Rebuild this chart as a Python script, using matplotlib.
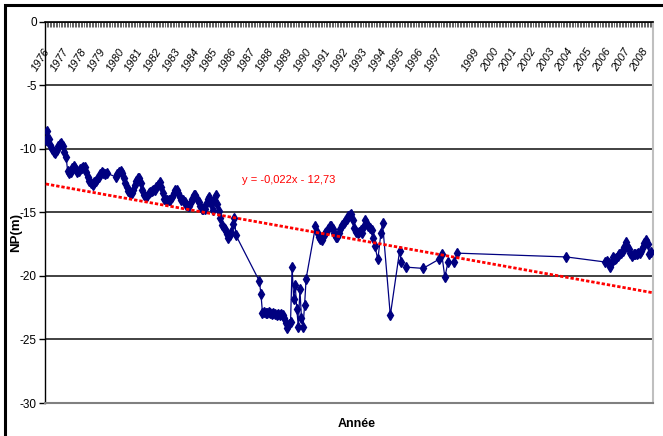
import numpy as np
import matplotlib
matplotlib.use("Agg")
import matplotlib.pyplot as plt
from matplotlib.patches import Rectangle

plt.rcParams['font.family'] = ['Liberation Sans Narrow', 'Liberation Sans', 'DejaVu Sans']
plt.rcParams['axes.unicode_minus'] = False

# monthly piezometric level NP (m), month 1 = January 1976
run_1976_start = 1
run_1976 = [-9.3, -8.6, -9.2, -9.7, -10.0, -10.2, -10.3, -10.1, -9.8, -9.6,
            -9.5, -9.8, -10.2, -10.6, -11.7, -11.9, -11.8, -11.5, -11.3, -11.5,
            -11.8, -11.7, -11.6, -11.5, -11.4, -11.4, -11.8, -12.2, -12.5, -12.7,
            -12.8, -12.6, -12.5, -12.4, -12.2, -12.0, -11.8, -11.9, -12.0, -11.9]

run_1979_start = 46
run_1979 = [-12.2, -12.0, -11.8, -11.7, -11.9, -12.3, -12.7, -13.0, -13.3, -13.5,
            -13.5, -13.2, -12.8, -12.5, -12.3, -12.3, -12.7, -13.2, -13.6, -13.8,
            -13.7, -13.5, -13.4, -13.3, -13.2, -13.2, -13.0, -12.8, -12.6, -13.0,
            -13.5, -13.9, -14.0, -14.0, -14.0, -14.0, -13.8, -13.5, -13.2, -13.2,
            -13.5, -13.8, -14.0, -14.0, -14.2, -14.4, -14.5, -14.5, -14.2, -13.9,
            -13.6, -13.6, -13.9, -14.2, -14.5, -14.7, -14.7, -14.7, -14.3, -13.9,
            -13.8, -14.3, -14.8, -14.0, -13.6, -14.3, -14.9, -15.4, -16.0, -16.2,
            -16.3, -16.7, -17.0, -16.8, -16.5, -15.9, -15.4, -16.8]

run_1987_start = 138
run_1987 = [-20.4, -21.4, -22.9, -22.8, -22.9, -22.9, -22.8, -22.9, -23.0, -22.9,
            -23.0, -23.1, -23.0, -23.1, -23.0, -23.1, -23.3, -23.7, -24.1, -23.8,
            -23.6, -19.3, -21.8, -20.7, -22.6, -24.0, -21.0, -23.3, -24.0, -22.3,
            -20.2]

run_1990_start = 174
run_1990 = [-16.1, -16.5, -16.9, -17.1, -17.2, -16.9, -16.6, -16.5, -16.3, -16.1,
            -16.1, -16.3, -16.6, -16.9, -16.9, -16.6, -16.3, -16.0, -15.8, -15.7,
            -15.5, -15.3, -15.2, -15.1, -15.6, -16.2, -16.5, -16.6, -16.5, -16.4,
            -16.6, -16.1, -15.6, -15.9, -16.1, -16.2, -16.4, -17.0, -17.6]

# isolated readings 1993-2004
sparse_months = [214, 216, 217, 222, 228, 229, 232, 243, 253, 255, 257, 259, 263, 265, 335]
sparse_levels = [-18.7, -16.6, -15.8, -23.1, -18.0, -18.9, -19.3, -19.4, -18.7, -18.3,
                 -20.1, -18.9, -18.9, -18.2, -18.5]

run_2005_start = 360
run_2005 = [-18.9, -18.8, -19.0, -19.3, -18.9, -18.5, -18.7, -18.6, -18.4, -18.3,
            -18.2, -18.0, -17.7, -17.3, -17.6, -17.9, -18.2, -18.4, -18.3, -18.3,
            -18.3, -18.2, -18.2, -18.0, -17.7, -17.4, -17.2, -17.5, -18.3, -18.1]

n_months = 390
year_labels = [1976, 1977, 1978, 1979, 1980, 1981, 1982, 1983, 1984, 1985, 1986,
               1987, 1988, 1989, 1990, 1991, 1992, 1993, 1994, 1995, 1996, 1997,
               1999, 2000, 2001, 2002, 2003, 2004, 2005, 2006, 2007, 2008]

# linear trend as fitted on the month index
trend_slope = -0.022
trend_intercept = -12.73

months, levels = [], []
for start, vals in [(run_1976_start, run_1976), (run_1979_start, run_1979),
                    (run_1987_start, run_1987), (run_1990_start, run_1990),
                    (run_2005_start, run_2005)]:
    months.extend(np.arange(start, start + len(vals)))
    levels.extend(vals)
months.extend(sparse_months)
levels.extend(sparse_levels)
order = np.argsort(months)
months = np.array(months)[order]
levels = np.array(levels)[order]

W, H = 663, 436
fig = plt.figure(figsize=(W / 100, H / 100), dpi=100)
ax = fig.add_axes([45 / W, 33 / H, 608 / W, 381 / H])

ax.set_xlim(0.5, n_months + 0.5)
ax.set_ylim(-30, 0)
ax.set_yticks(np.arange(-30, 1, 5))
ax.set_yticklabels([str(v) for v in range(-30, 1, 5)])
ax.yaxis.grid(True, color='#333333', lw=1.3)
ax.set_axisbelow(True)

# observed levels
ax.plot(months, levels, color='#000080', lw=0.9, marker='d', ms=5.5,
        mec='#000080', mfc='#000080', zorder=3)

# trend line
xt = np.array([1, n_months])
ax.plot(xt, trend_slope * xt + trend_intercept, color='#FF0000', lw=2.0,
        ls=(0, (1.2, 0.7)), zorder=4)
fig.text(242 / W, 1 - 180 / H, 'y = -0,022x - 12,73', color='#FF0000',
         fontsize=8, va='center', ha='left')

# category axis drawn at the top (level 0), one tick per month
ax.xaxis.tick_top()
ax.set_xticks([])
ax.set_xticks(np.arange(0.5, n_months + 1, 1), minor=True)
ax.tick_params(axis='x', which='minor', direction='in', length=3.5, width=0.5,
               color='#222222', top=True, bottom=False)
for yr in year_labels:
    m = (yr - 1976) * 12 + 1
    ax.text(m + 1, -2.15, str(yr), rotation=58, ha='right', va='center',
            style='italic', fontsize=8, family=['Liberation Sans', 'DejaVu Sans'],
            rotation_mode='anchor', clip_on=False)

ax.tick_params(axis='y', direction='out', length=4, width=1, pad=2,
               labelsize=8.5, color='black')

ax.spines['top'].set_color('black')
ax.spines['top'].set_linewidth(1.2)
ax.spines['left'].set_color('black')
ax.spines['left'].set_linewidth(1.0)
ax.spines['right'].set_color('#BFBFBF')
ax.spines['right'].set_linewidth(1.5)
ax.spines['bottom'].set_color('#808080')
ax.spines['bottom'].set_linewidth(1.5)

fig.text(16 / W, 1 - 232 / H, 'NP(m)', rotation=90, fontsize=9.5,
         fontweight='bold', ha='center', va='center')
fig.text(357 / W, 1 - 424 / H, 'Année', fontsize=9, fontweight='bold',
         ha='center', va='center')

# chart border
fig.patches.append(Rectangle((5 / W, -0.05), 1.2, 1.05 - 5 / H,
                             transform=fig.transFigure, fill=False,
                             lw=2.2, ec='black'))

fig.savefig('out.png', dpi=100)
